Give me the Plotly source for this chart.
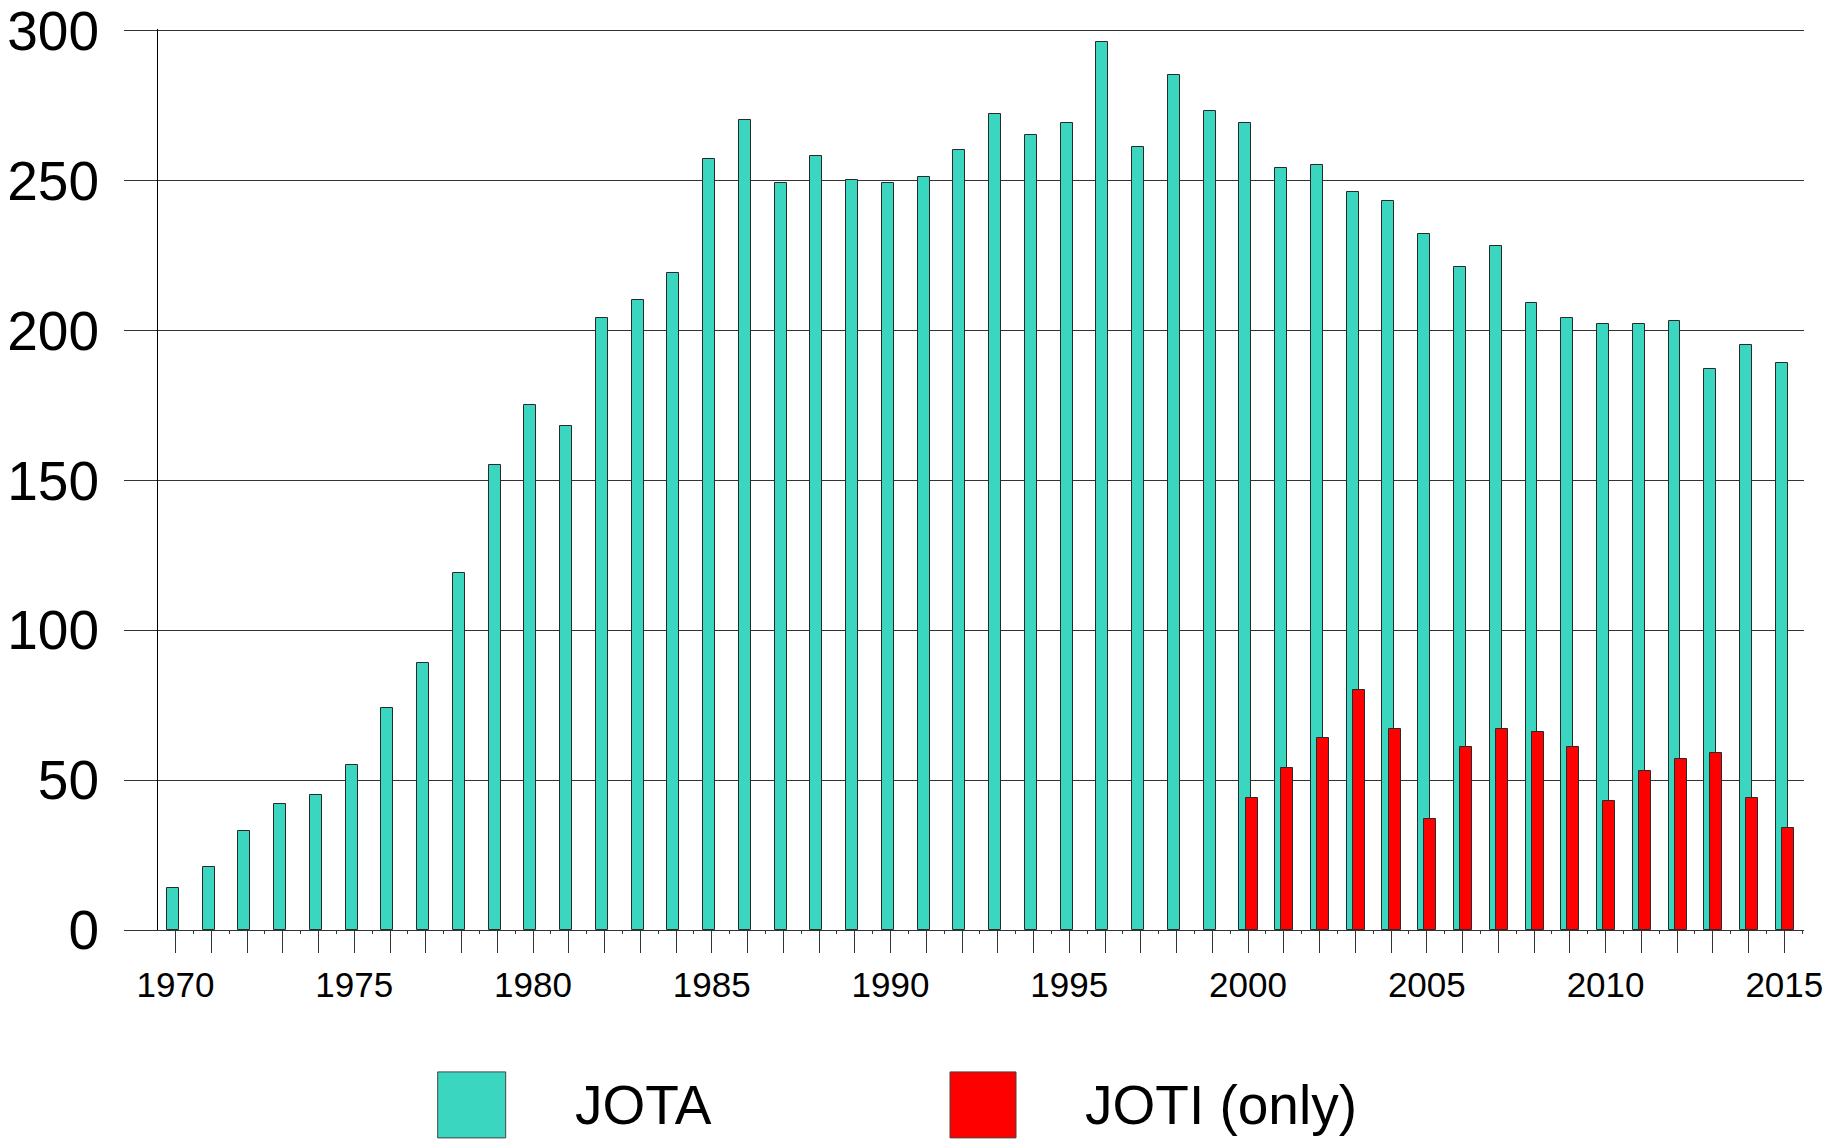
import plotly.graph_objects as go

# ---- data ----
years = list(range(1970, 2016))
jota = [14, 21, 33, 42, 45, 55, 74, 89, 119, 155,
        175, 168, 204, 210, 219, 257, 270, 249, 258, 250,
        249, 251, 260, 272, 265, 269, 296, 261, 285, 273,
        269, 254, 255, 246, 243, 232, 221, 228, 209, 204,
        202, 202, 203, 187, 195, 189]
joti_years = list(range(2000, 2016))
joti = [44, 54, 64, 80, 67, 37, 61, 67, 66, 61, 43, 53, 57, 59, 44, 34]
y_ticks = [0, 50, 100, 150, 200, 250, 300]
x_label_years = [1970, 1975, 1980, 1985, 1990, 1995, 2000, 2005, 2010, 2015]
series_names = ["JOTA", "JOTI (only)"]

TEAL = "#3AD6C0"
RED = "#FF0000"
EDGE = "#2a2a2a"
GRID = "#333333"
FONT = "Liberation Sans, Arial, sans-serif"

W, H = 1843, 1139
Y_MAX = 300.5
ML, MR, MB = 158, 39, 209
PH = 3.0 * Y_MAX
MT = H - MB - PH
PW = W - ML - MR


def px_x(p):
    return (p - ML) / PW


def px_y(p):
    return (H - MB - p) / PH


fig = go.Figure()
fig.add_trace(go.Bar(x=years, y=jota, name=series_names[0],
                     marker=dict(color=TEAL, line=dict(color=EDGE, width=1)),
                     offset=-0.24, width=0.335, showlegend=False))
fig.add_trace(go.Bar(x=joti_years, y=joti, name=series_names[1],
                     marker=dict(color=RED, line=dict(color=EDGE, width=1)),
                     offset=-0.07, width=0.335, showlegend=False))

# manual legend
legend_items = [(437.7, 505.7, 573, TEAL), (950, 1016, 1083, RED)]
for (x0, x1, tx, col), name in zip(legend_items, series_names):
    fig.add_shape(type="rect", xref="paper", yref="paper",
                  x0=px_x(x0), x1=px_x(x1), y0=px_y(1072), y1=px_y(1138),
                  fillcolor=col, line=dict(color="#444444", width=1))
    fig.add_annotation(xref="paper", yref="paper", x=px_x(tx), y=px_y(1105),
                       xanchor="left", yanchor="middle", text=name, showarrow=False,
                       font=dict(family=FONT, size=55, color="black"))

fig.update_layout(
    width=W, height=H, autosize=False,
    margin=dict(l=ML, r=MR, t=MT, b=MB, pad=0),
    paper_bgcolor="white", plot_bgcolor="white",
    barmode="overlay", bargap=0,
    font=dict(family=FONT, color="black"),
)
fig.update_xaxes(
    range=[1969.51, 2015.55], tickmode="array", tickvals=years,
    ticktext=[str(y) if y in x_label_years else "" for y in years],
    ticks="outside", ticklen=22, tickwidth=1, tickcolor=GRID,
    tickfont=dict(family=FONT, size=35, color="black"),
    ticklabelstandoff=2, automargin=False,
    showgrid=False, zeroline=False,
    showline=True, linecolor=GRID, linewidth=1,
    minor=dict(tickmode="linear", tick0=1969.5, dtick=1, ticks="outside",
               ticklen=3, tickwidth=1, tickcolor=GRID, showgrid=False),
)
fig.update_yaxes(
    range=[0, Y_MAX], tickmode="array", tickvals=y_ticks,
    ticks="outside", ticklen=33, tickwidth=1, tickcolor=GRID,
    tickfont=dict(family=FONT, size=55, color="black"),
    ticklabelstandoff=14, automargin=False, ticklabeloverflow="allow",
    showgrid=True, gridcolor=GRID, gridwidth=1, zeroline=False,
    showline=True, linecolor="black", linewidth=1,
)

fig.write_html("out.html", config={"displayModeBar": False},
               post_script="document.body.style.margin='0';")
